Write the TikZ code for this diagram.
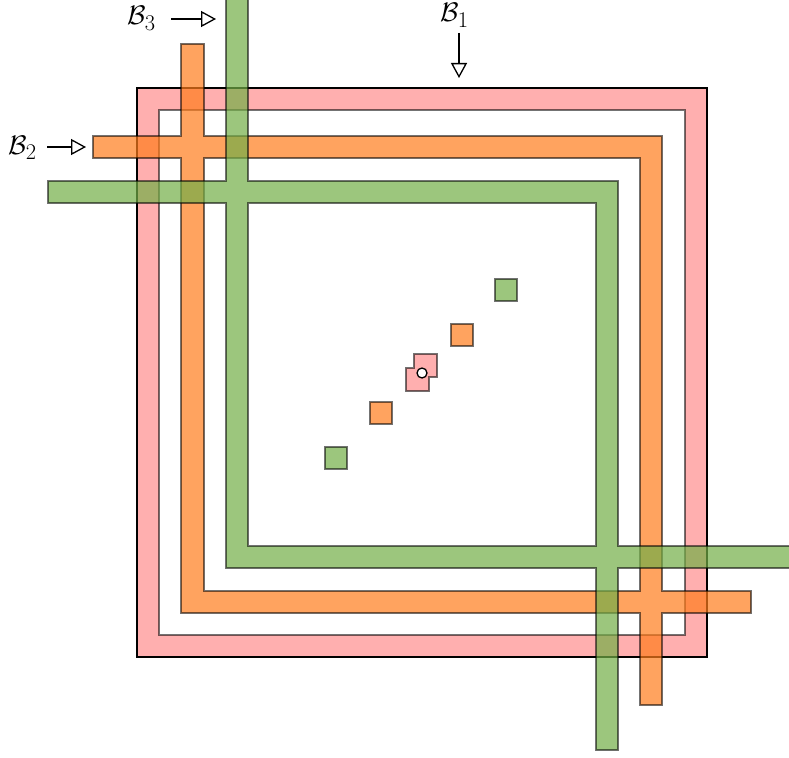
\documentclass[tikz,border=0pt]{standalone}
\usetikzlibrary{arrows.meta}
\definecolor{pinkF}{RGB}{255,142,142}
\definecolor{orangeF}{RGB}{255,124,28}
\definecolor{greenF}{RGB}{115,174,71}
\tikzset{
  band/.style={draw=black, draw opacity=0.55, line width=1.5pt, fill opacity=0.7, even odd rule},
  cell/.style={draw=black, draw opacity=0.55, line width=1.5pt, fill opacity=0.7},
  lab/.style={inner sep=0pt, anchor=base west, font=\Huge},
  pointer/.style={line width=1.3pt, -{Triangle[open, length=15pt, width=16pt]}},
}
\begin{document}
\begin{tikzpicture}[x=1pt,y=-1pt]
\clip (0,0) rectangle (789,757);
\fill[white] (0,0) rectangle (789,757);
% B1 : pink ring
\path[band, fill=pinkF, draw=none] (137,88) rectangle (707,657) (159,110) rectangle (685,635);
\draw[draw=black, draw opacity=0.55, line width=1.5pt] (159,110) rectangle (685,635);
\draw[line width=1.5pt] (137,88) rectangle (707,657);
% B2 : orange
\path[band, fill=orangeF]
  (181,44) -- (204,44) -- (204,136) -- (662,136) -- (662,591) -- (751,591) -- (751,613)
  -- (662,613) -- (662,705) -- (640,705) -- (640,613) -- (181,613) -- (181,158)
  -- (93,158) -- (93,136) -- (181,136) -- cycle
  (204,158) -- (640,158) -- (640,591) -- (204,591) -- cycle;
% B3 : green
\path[band, fill=greenF]
  (226,-3) -- (248,-3) -- (248,181) -- (618,181) -- (618,546) -- (795,546) -- (795,568)
  -- (618,568) -- (618,750) -- (596,750) -- (596,568) -- (226,568) -- (226,203)
  -- (48,203) -- (48,181) -- (226,181) -- cycle
  (248,203) -- (596,203) -- (596,546) -- (248,546) -- cycle;
% small cells
\path[cell, fill=greenF] (495,279) rectangle (517,301);
\path[cell, fill=greenF] (325,447) rectangle (347,469);
\path[cell, fill=orangeF] (451,324) rectangle (473,346);
\path[cell, fill=orangeF] (370,402) rectangle (392,424);
\path[cell, fill=pinkF] (414,354) -- (437,354) -- (437,377) -- (429,377) -- (429,391)
  -- (406,391) -- (406,368) -- (414,368) -- cycle;
\node[circle, draw=black, fill=white, line width=1.3pt, minimum size=10pt, inner sep=0pt] (c) at (422,373) {};
% labels
\node[lab] (b1) at (440,22) {\scalebox{1.08}{$\mathcal{B}_1$}};
\node[lab] (b2) at (8,154) {\scalebox{1.08}{$\mathcal{B}_2$}};
\node[lab] (b3) at (127,25) {\scalebox{1.08}{$\mathcal{B}_3$}};
\coordinate (a1s) at (459,33);
\coordinate (a1e) at (459,78);
\coordinate (a2s) at (47,147);
\coordinate (a2e) at (86,147);
\coordinate (a3s) at (171,19);
\coordinate (a3e) at (216,19);
\draw[pointer] (a1s) -- (a1e);
\draw[pointer] (a2s) -- (a2e);
\draw[pointer] (a3s) -- (a3e);
\end{tikzpicture}
\end{document}
